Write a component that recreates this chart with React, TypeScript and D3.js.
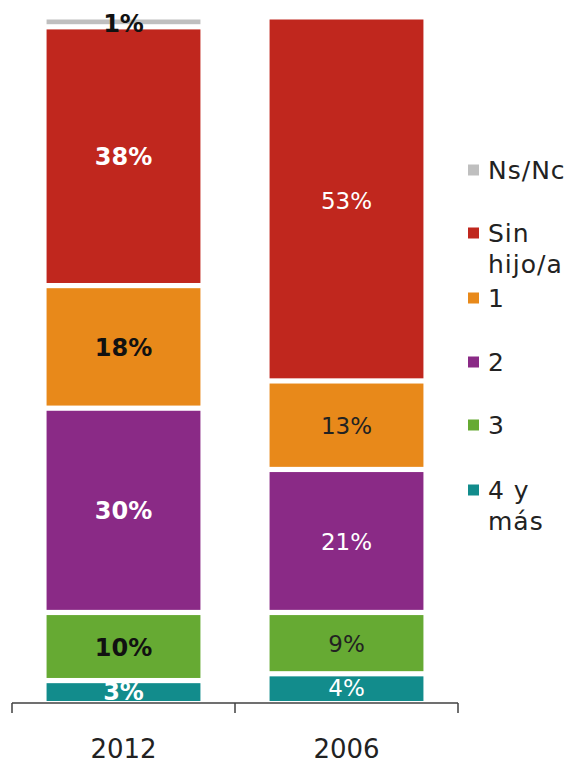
import React from "react";
import * as d3 from "d3";

const categories = ["2012", "2006"];
const seriesNames = ["4 y más", "3", "2", "1", "Sin hijo/a", "Ns/Nc"];
const values2012 = [3, 10, 30, 18, 38, 1];
const values2006 = [4, 9, 21, 13, 53, 0];
const seriesColors = ["#128c8c", "#66aa33", "#8a2a86", "#e8891a", "#c0271e", "#bfbfbf"];
const legendLines = [["Ns/Nc"], ["Sin", "hijo/a"], ["1"], ["2"], ["3"], ["4 y", "más"]];
const legendColors = ["#bfbfbf", "#c0271e", "#e8891a", "#8a2a86", "#66aa33", "#128c8c"];

const FONT = "'DejaVu Sans', sans-serif";

export default function App() {
  const W = 576, H = 765;
  const x = d3.scaleBand<string>().domain(categories).range([12, 458]).paddingInner(0.31).paddingOuter(0.155);
  const y = d3.scaleLinear().domain([0, 100]).range([701, 20]);
  const rows = categories.map((c, i) => {
    const vals = i === 0 ? values2012 : values2006;
    const r: any = { cat: c };
    seriesNames.forEach((s, j) => (r[s] = vals[j]));
    return r;
  });
  const stacked = d3.stack<any>().keys(seriesNames)(rows);
  const labelDark = new Set(["3", "1", "Ns/Nc"]);
  const legendCY = [170, 233, 298, 362, 425, 490];
  const gap = 2.6;

  return (
    <svg width={W} height={H} style={{ position: "absolute", left: 0, top: 0, background: "#fff" }} fontFamily={FONT}>
      {stacked.map((layer, li) => (
        <g key={layer.key}>
          {layer.map((d, di) => {
            const v = d[1] - d[0];
            if (v <= 0) return null;
            const x0 = x(categories[di])!;
            const top = y(d[1]) + (d[1] >= 100 ? -0.5 : gap);
            const bot = y(d[0]) - (d[0] <= 0 ? 0 : gap);
            return (
              <rect key={di} x={x0} width={x.bandwidth()} y={top} height={bot - top}
                fill={seriesColors[li]} />
            );
          })}
        </g>
      ))}
      {stacked.map((layer, li) => (
        <g key={"l" + layer.key}>
          {layer.map((d, di) => {
            const v = d[1] - d[0];
            if (v <= 0) return null;
            const cx = x(categories[di])! + x.bandwidth() / 2;
            const cy = (y(d[0]) + y(d[1])) / 2;
            const bold = di === 0;
            const dark = labelDark.has(layer.key as string);
            return (
              <text key={di} x={cx} y={cy + 9} textAnchor="middle" fontSize={bold ? 24 : 23}
                fontWeight={bold ? "bold" : "normal"} fill={dark ? (bold ? "#111" : "#222") : "#fff"}>
                {v}%
              </text>
            );
          })}
        </g>
      ))}
      <g stroke="#404040" strokeWidth={1.5} fill="none">
        <line x1={12} x2={458} y1={703} y2={703} />
        {[12, (x("2012")! + x.bandwidth() + x("2006")!) / 2, 458].map((t, i) => (
          <line key={i} x1={t} x2={t} y1={703} y2={713} />
        ))}
      </g>
      {categories.map((c) => (
        <text key={c} x={x(c)! + x.bandwidth() / 2} y={758} textAnchor="middle" fontSize={26} fill="#222">{c}</text>
      ))}
      {legendLines.map((lines, i) => (
        <g key={i}>
          <rect x={468} y={legendCY[i] - 5.5} width={11} height={11} fill={legendColors[i]} />
          {lines.map((t, k) => (
            <text key={k} x={488} y={legendCY[i] + 9 + k * 31} fontSize={25} letterSpacing={1} fill="#222">{t}</text>
          ))}
        </g>
      ))}
    </svg>
  );
}
